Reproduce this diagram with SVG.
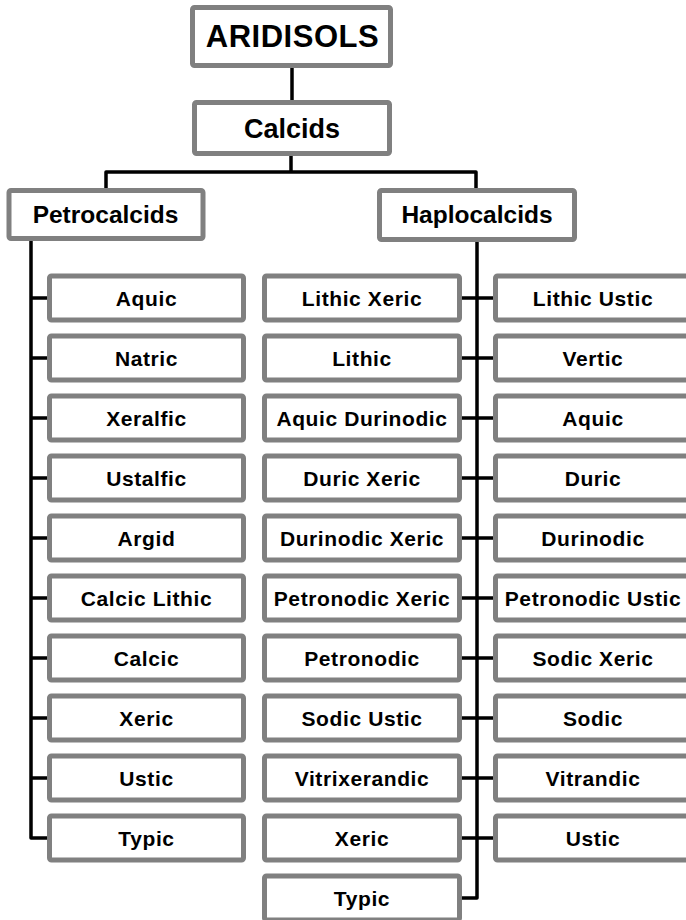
<svg xmlns="http://www.w3.org/2000/svg" width="686" height="920" viewBox="0 0 686 920">
<style>
.box{fill:#fff;stroke:#808080;stroke-width:5}
.t{font-family:"Liberation Sans",Arial,sans-serif;font-weight:bold;fill:#000;text-anchor:middle}
.l{font-size:21px;letter-spacing:0.6px}
.c{fill:none;stroke:#000;stroke-width:3.5;stroke-linejoin:round}
</style>
<rect width="686" height="920" fill="#fff"/>
<g id="connectors" class="c">
<path d="M292 68V100"/>
<path d="M291 156V172"/>
<path d="M106 188V172H476V188"/>
<path d="M31 241V838H47"/>
<path d="M31 298H47M31 358H47M31 418H47M31 478H47M31 538H47M31 598H47M31 658H47M31 718H47M31 778H47"/>
<path d="M477 241V898H462"/>
<path d="M462 298H493M462 358H493M462 418H493M462 478H493M462 538H493M462 598H493M462 658H493M462 718H493M462 778H493M462 838H493"/>
</g>
<g id="aridisols"><rect class="box" x="192.5" y="7.5" width="198" height="58" rx="2"/><text class="t" x="292.5" y="47" font-size="31" letter-spacing="0.5">ARIDISOLS</text></g>
<g id="calcids"><rect class="box" x="194.5" y="102.5" width="195" height="51" rx="2"/><text class="t" x="292" y="138" font-size="27">Calcids</text></g>
<g id="petrocalcids"><rect class="box" x="9" y="190.5" width="194" height="48" rx="2"/><text class="t" x="105.5" y="223" font-size="24.5">Petrocalcids</text></g>
<g id="haplocalcids"><rect class="box" x="379.5" y="190.5" width="195" height="49" rx="2"/><text class="t" x="477" y="223" font-size="24.5">Haplocalcids</text></g>
<g id="p-aquic"><rect class="box" x="49.5" y="276" width="194" height="44" rx="2"/><text class="t l" x="146.5" y="305.5">Aquic</text></g>
<g id="p-natric"><rect class="box" x="49.5" y="336" width="194" height="44" rx="2"/><text class="t l" x="146.5" y="365.5">Natric</text></g>
<g id="p-xeralfic"><rect class="box" x="49.5" y="396" width="194" height="44" rx="2"/><text class="t l" x="146.5" y="425.5">Xeralfic</text></g>
<g id="p-ustalfic"><rect class="box" x="49.5" y="456" width="194" height="44" rx="2"/><text class="t l" x="146.5" y="485.5">Ustalfic</text></g>
<g id="p-argid"><rect class="box" x="49.5" y="516" width="194" height="44" rx="2"/><text class="t l" x="146.5" y="545.5">Argid</text></g>
<g id="p-calcic-lithic"><rect class="box" x="49.5" y="576" width="194" height="44" rx="2"/><text class="t l" x="146.5" y="605.5">Calcic Lithic</text></g>
<g id="p-calcic"><rect class="box" x="49.5" y="636" width="194" height="44" rx="2"/><text class="t l" x="146.5" y="665.5">Calcic</text></g>
<g id="p-xeric"><rect class="box" x="49.5" y="696" width="194" height="44" rx="2"/><text class="t l" x="146.5" y="725.5">Xeric</text></g>
<g id="p-ustic"><rect class="box" x="49.5" y="756" width="194" height="44" rx="2"/><text class="t l" x="146.5" y="785.5">Ustic</text></g>
<g id="p-typic"><rect class="box" x="49.5" y="816" width="194" height="44" rx="2"/><text class="t l" x="146.5" y="845.5">Typic</text></g>
<g id="h-lithic-xeric"><rect class="box" x="264.5" y="276" width="195" height="44" rx="2"/><text class="t l" x="362" y="305.5">Lithic Xeric</text></g>
<g id="h-lithic"><rect class="box" x="264.5" y="336" width="195" height="44" rx="2"/><text class="t l" x="362" y="365.5">Lithic</text></g>
<g id="h-aquic-durinodic"><rect class="box" x="264.5" y="396" width="195" height="44" rx="2"/><text class="t l" x="362" y="425.5">Aquic Durinodic</text></g>
<g id="h-duric-xeric"><rect class="box" x="264.5" y="456" width="195" height="44" rx="2"/><text class="t l" x="362" y="485.5">Duric Xeric</text></g>
<g id="h-durinodic-xeric"><rect class="box" x="264.5" y="516" width="195" height="44" rx="2"/><text class="t l" x="362" y="545.5">Durinodic Xeric</text></g>
<g id="h-petronodic-xeric"><rect class="box" x="264.5" y="576" width="195" height="44" rx="2"/><text class="t l" x="362" y="605.5">Petronodic Xeric</text></g>
<g id="h-petronodic"><rect class="box" x="264.5" y="636" width="195" height="44" rx="2"/><text class="t l" x="362" y="665.5">Petronodic</text></g>
<g id="h-sodic-ustic"><rect class="box" x="264.5" y="696" width="195" height="44" rx="2"/><text class="t l" x="362" y="725.5">Sodic Ustic</text></g>
<g id="h-vitrixerandic"><rect class="box" x="264.5" y="756" width="195" height="44" rx="2"/><text class="t l" x="362" y="785.5">Vitrixerandic</text></g>
<g id="h-xeric"><rect class="box" x="264.5" y="816" width="195" height="44" rx="2"/><text class="t l" x="362" y="845.5">Xeric</text></g>
<g id="h-typic"><rect class="box" x="264.5" y="876" width="195" height="44" rx="2"/><text class="t l" x="362" y="905.5">Typic</text></g>
<g id="h-lithic-ustic"><rect class="box" x="495.5" y="276" width="195" height="44" rx="2"/><text class="t l" x="593" y="305.5">Lithic Ustic</text></g>
<g id="h-vertic"><rect class="box" x="495.5" y="336" width="195" height="44" rx="2"/><text class="t l" x="593" y="365.5">Vertic</text></g>
<g id="h-aquic"><rect class="box" x="495.5" y="396" width="195" height="44" rx="2"/><text class="t l" x="593" y="425.5">Aquic</text></g>
<g id="h-duric"><rect class="box" x="495.5" y="456" width="195" height="44" rx="2"/><text class="t l" x="593" y="485.5">Duric</text></g>
<g id="h-durinodic"><rect class="box" x="495.5" y="516" width="195" height="44" rx="2"/><text class="t l" x="593" y="545.5">Durinodic</text></g>
<g id="h-petronodic-ustic"><rect class="box" x="495.5" y="576" width="195" height="44" rx="2"/><text class="t l" x="593" y="605.5">Petronodic Ustic</text></g>
<g id="h-sodic-xeric"><rect class="box" x="495.5" y="636" width="195" height="44" rx="2"/><text class="t l" x="593" y="665.5">Sodic Xeric</text></g>
<g id="h-sodic"><rect class="box" x="495.5" y="696" width="195" height="44" rx="2"/><text class="t l" x="593" y="725.5">Sodic</text></g>
<g id="h-vitrandic"><rect class="box" x="495.5" y="756" width="195" height="44" rx="2"/><text class="t l" x="593" y="785.5">Vitrandic</text></g>
<g id="h-ustic"><rect class="box" x="495.5" y="816" width="195" height="44" rx="2"/><text class="t l" x="593" y="845.5">Ustic</text></g>
</svg>
